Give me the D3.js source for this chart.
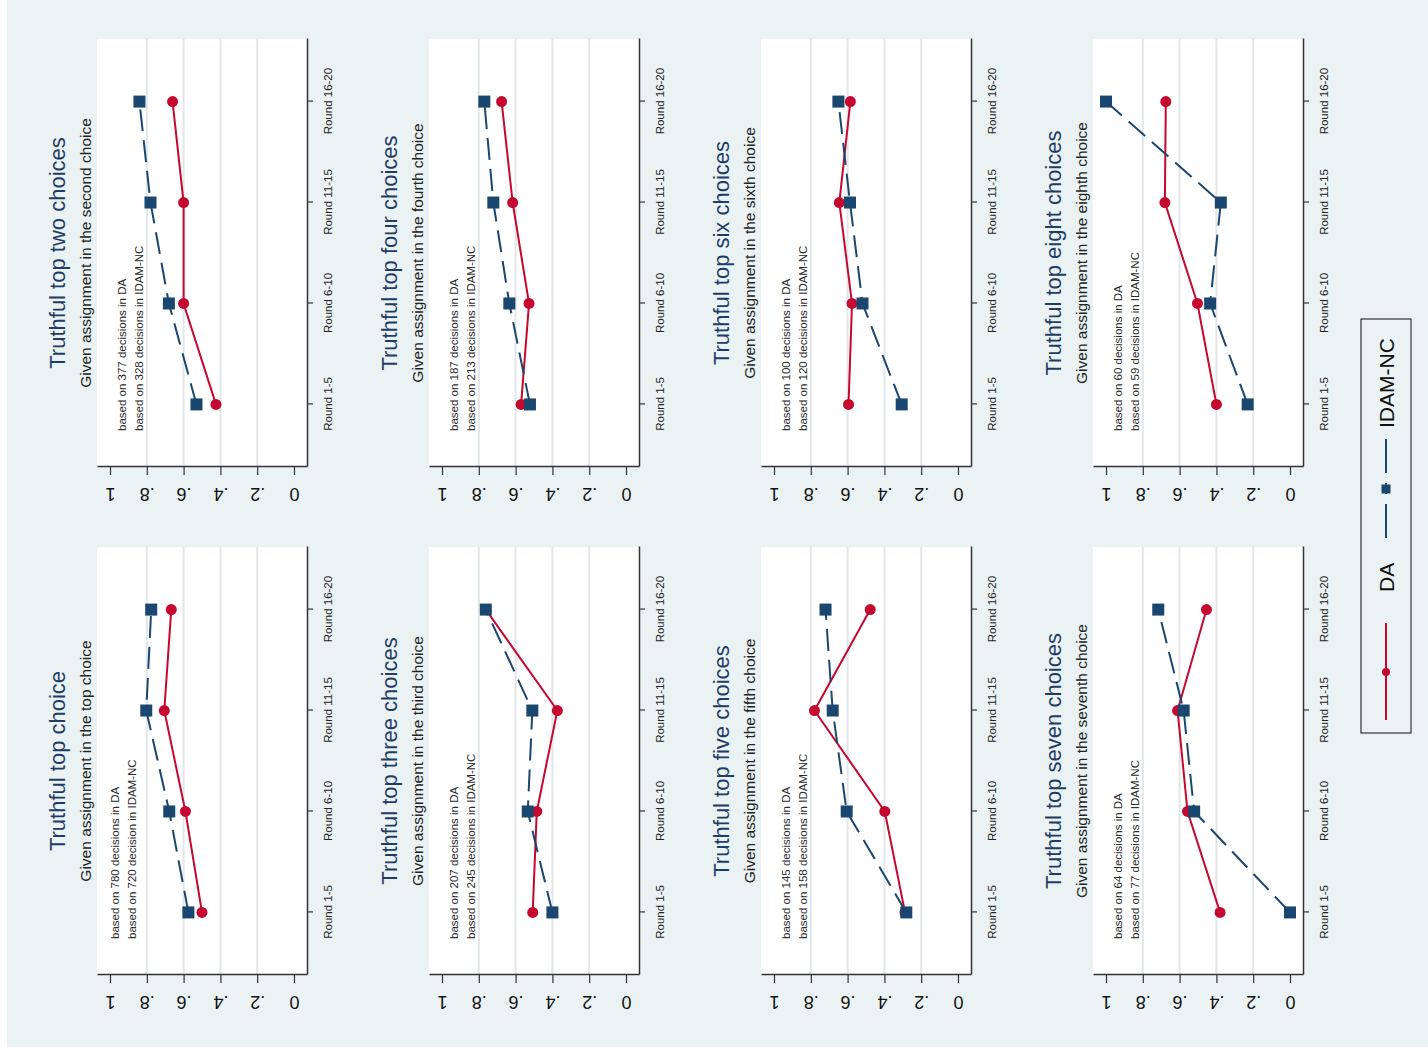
<!DOCTYPE html>
<html>
<head>
<meta charset="utf-8">
<script src="https://cdn.jsdelivr.net/npm/d3@7"></script>
<style>
  html, body { margin: 0; padding: 0; background: #ffffff; }
  svg { display: block; font-family: "Liberation Sans", Arial, Helvetica, sans-serif; }
</style>
</head>
<body>
<svg id="chart" width="1428" height="1053"></svg>
<script>
// ---------------- DATA ----------------
const rounds = ["Round 1-5", "Round 6-10", "Round 11-15", "Round 16-20"];

const panelTitles = [
  "Truthful top choice",
  "Truthful top two choices",
  "Truthful top three choices",
  "Truthful top four choices",
  "Truthful top five choices",
  "Truthful top six choices",
  "Truthful top seven choices",
  "Truthful top eight choices"
];

const panelSubtitles = [
  "Given assignment in the top choice",
  "Given assignment in the second choice",
  "Given assignment in the third choice",
  "Given assignment in the fourth choice",
  "Given assignment in the fifth choice",
  "Given assignment in the sixth choice",
  "Given assignment in the seventh choice",
  "Given assignment in the eighth choice"
];

const daNotes = [
  "based on 780 decisions in DA",
  "based on 377 decisions in DA",
  "based on 207 decisions in DA",
  "based on 187 decisions in DA",
  "based on 145 decisions in DA",
  "based on 100 decisions in DA",
  "based on 64 decisions in DA",
  "based on 60 decisions in DA"
];

const idamNotes = [
  "based on 720 decision in IDAM-NC",
  "based on 328 decisions in IDAM-NC",
  "based on 245 decisions in IDAM-NC",
  "based on 213 decisions in IDAM-NC",
  "based on 158 decisions in IDAM-NC",
  "based on 120 decisions in IDAM-NC",
  "based on 77 decisions in IDAM-NC",
  "based on 59 decisions in IDAM-NC"
];

const daValues = [
  [0.500, 0.590, 0.705, 0.667],
  [0.424, 0.600, 0.600, 0.660],
  [0.507, 0.485, 0.373, 0.762],
  [0.570, 0.527, 0.616, 0.676],
  [0.288, 0.398, 0.780, 0.477],
  [0.595, 0.576, 0.645, 0.585],
  [0.380, 0.557, 0.611, 0.454],
  [0.400, 0.503, 0.680, 0.675]
];

const idamValues = [
  [0.574, 0.678, 0.803, 0.776],
  [0.530, 0.680, 0.780, 0.840],
  [0.400, 0.534, 0.509, 0.762],
  [0.522, 0.634, 0.721, 0.770],
  [0.281, 0.605, 0.681, 0.720],
  [0.306, 0.519, 0.587, 0.650],
  [0.000, 0.521, 0.578, 0.716],
  [0.230, 0.434, 0.376, 1.000]
];

const yTicks = [0, 0.2, 0.4, 0.6, 0.8, 1];
const yTickLabels = ["0", ".2", ".4", ".6", ".8", "1"];
const gridTicks = [0.2, 0.4, 0.6, 0.8];

const seriesNames = ["DA", "IDAM-NC"];

// ---------------- STYLE ----------------
const RED = "#c5082f";
const NAVY = "#1a476f";
const BG = "#eaf2f3";
const DASH = "22,9";

const svg = d3.select("#chart");
// background (rotated frame)
svg.append("rect").attr("x", 0).attr("y", 0).attr("width", 1428).attr("height", 1053).attr("fill", "#ffffff");
svg.append("rect").attr("x", 7).attr("y", 0).attr("width", 1421).attr("height", 1047).attr("fill", BG);

// Draw in the original (portrait) orientation, then rotate whole graph -90deg
const root = svg.append("g").attr("transform", "translate(0,1053) rotate(-90)");

const PW = 428, PH = 210;

panelTitles.forEach((title, i) => {
  const row = Math.floor(i / 2), col = i % 2;
  const left = col === 0 ? 78 : 586;
  const top = 97 + 332 * row;

  const x = d3.scalePoint().domain(rounds).range([left, left + PW]).padding(0.62);
  const y = d3.scaleLinear().domain([-0.0707, 1.0707]).range([top + PH, top]);

  const g = root.append("g");

  // plot region
  g.append("rect").attr("x", left).attr("y", top).attr("width", PW).attr("height", PH).attr("fill", "#ffffff");

  // gridlines
  g.selectAll(".grid").data(gridTicks).join("line")
    .attr("x1", left).attr("x2", left + PW)
    .attr("y1", d => y(d)).attr("y2", d => y(d))
    .attr("stroke", "#e2e6e8").attr("stroke-width", 2);

  // y axis
  const ya = g.append("g").attr("transform", `translate(${left},0)`)
    .call(d3.axisLeft(y).tickValues(yTicks).tickFormat((d, j) => yTickLabels[j]).tickSize(8).tickSizeOuter(0));
  ya.select(".domain").attr("stroke", "#333").attr("stroke-width", 1.5);
  ya.selectAll(".tick line").attr("stroke", "#333").attr("stroke-width", 1.2);
  ya.selectAll(".tick text")
    .attr("x", 0).attr("y", -21).attr("dy", 0)
    .attr("transform", "rotate(-90)")
    .attr("text-anchor", "middle")
    .attr("fill", "#111").style("font-size", "18px")
    .style("font-family", "'Liberation Sans', Arial, sans-serif");

  // x axis
  const xa = g.append("g").attr("transform", `translate(0,${top + PH})`)
    .call(d3.axisBottom(x).tickSize(6).tickSizeOuter(0));
  xa.select(".domain").attr("stroke", "#333").attr("stroke-width", 1.5);
  xa.selectAll(".tick line").attr("stroke", "#333").attr("stroke-width", 1.2);
  xa.selectAll(".tick text")
    .attr("y", 25).attr("dy", 0)
    .attr("fill", "#222").style("font-size", "11.5px")
    .style("font-family", "'Liberation Sans', Arial, sans-serif");

  // titles
  const cx = left + PW / 2;
  g.append("text").attr("x", cx).attr("y", top - 32).attr("text-anchor", "middle")
    .attr("fill", "#1e3c66").style("font-size", "22px").text(title);
  g.append("text").attr("x", cx).attr("y", top - 6).attr("text-anchor", "middle")
    .attr("fill", "#222").style("font-size", "15.5px").text(panelSubtitles[i]);

  // notes
  const nOff = i === 0 ? 18 : 25;
  g.append("text").attr("x", left + 36).attr("y", top + nOff + 4)
    .attr("fill", "#2a2a2a").style("font-size", "11.5px").text(daNotes[i]);
  g.append("text").attr("x", left + 36).attr("y", top + nOff + 21)
    .attr("fill", "#2a2a2a").style("font-size", "11.5px").text(idamNotes[i]);

  const line = d3.line().x((d, j) => x(rounds[j])).y(d => y(d));

  // DA series
  g.append("path").datum(daValues[i]).attr("d", line)
    .attr("fill", "none").attr("stroke", RED).attr("stroke-width", 2);
  g.selectAll(".da").data(daValues[i]).join("circle")
    .attr("cx", (d, j) => x(rounds[j])).attr("cy", d => y(d)).attr("r", 5.5)
    .attr("fill", RED);

  // IDAM-NC series
  g.append("path").datum(idamValues[i]).attr("d", line)
    .attr("fill", "none").attr("stroke", NAVY).attr("stroke-width", 2)
    .attr("stroke-dasharray", DASH);
  g.selectAll(".idam").data(idamValues[i]).join("rect")
    .attr("x", (d, j) => x(rounds[j]) - 6).attr("y", d => y(d) - 6)
    .attr("width", 12).attr("height", 12).attr("fill", NAVY);
});

// ---------------- LEGEND ----------------
const lg = root.append("g");
lg.append("rect").attr("x", 320).attr("y", 1361).attr("width", 414).attr("height", 50)
  .attr("fill", "none").attr("stroke", "#333").attr("stroke-width", 1.2);
const ly = 1386;
// DA
lg.append("line").attr("x1", 333).attr("x2", 430).attr("y1", ly).attr("y2", ly)
  .attr("stroke", RED).attr("stroke-width", 2);
lg.append("circle").attr("cx", 381).attr("cy", ly).attr("r", 4).attr("fill", RED);
lg.append("text").attr("x", 461).attr("y", ly + 7.5).attr("fill", "#111")
  .style("font-size", "21px").text(seriesNames[0]);
// IDAM-NC
lg.append("line").attr("x1", 515).attr("x2", 614).attr("y1", ly).attr("y2", ly)
  .attr("stroke", NAVY).attr("stroke-width", 2).attr("stroke-dasharray", "34,10,11,10,34");
lg.append("rect").attr("x", 559.5).attr("y", ly - 4.5).attr("width", 9).attr("height", 9).attr("fill", NAVY);
lg.append("text").attr("x", 625).attr("y", ly + 7.5).attr("fill", "#111")
  .style("font-size", "21px").text(seriesNames[1]);
</script>
</body>
</html>
